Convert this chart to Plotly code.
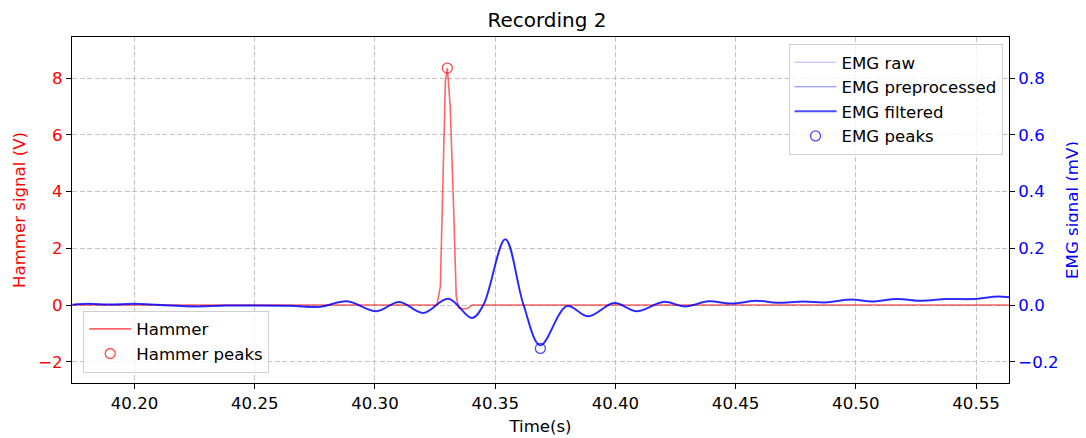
import plotly.graph_objects as go

# ---------------- data ----------------
hammer_t = [40.1742, 40.3000, 40.3258, 40.3272, 40.3283, 40.3293, 40.3301, 40.3313,
            40.3327, 40.3338, 40.3348, 40.3365, 40.3385, 40.3405, 40.5637]
hammer_v = [0.0, 0.0, 0.0, 0.66, 4.66, 7.9, 8.35, 7.0,
            3.47, 0.3, -0.1, -0.14, -0.12, 0.0, 0.0]

hammer_peak_t = [40.3301]
hammer_peak_v = [8.35]

emg_t = [40.1742, 40.1805, 40.1900, 40.2000, 40.2108, 40.2245, 40.2378, 40.2499,
         40.2648, 40.2773, 40.2884, 40.3006, 40.3101, 40.3201, 40.3305, 40.3404,
         40.3451, 40.3542, 40.3618, 40.3688, 40.3798, 40.3887, 40.3995, 40.4089,
         40.4200, 40.4290, 40.4387, 40.4484, 40.4588, 40.4671, 40.4781, 40.4872,
         40.4983, 40.5066, 40.5170, 40.5274, 40.5378, 40.5487, 40.5591, 40.5637]
emg_filtered = [0.001, 0.004, 0.002, 0.004, 0.000, -0.005, -0.002, -0.002,
                -0.003, -0.006, 0.013, -0.022, 0.011, -0.028, 0.022, -0.046,
                0.000, 0.232, 0.000, -0.142, -0.004, -0.040, 0.007, -0.022,
                0.011, -0.005, 0.013, 0.005, 0.015, 0.008, 0.012, 0.009,
                0.019, 0.012, 0.021, 0.015, 0.021, 0.021, 0.030, 0.027]
emg_raw = emg_filtered
emg_preprocessed = emg_filtered

emg_peak_t = [40.3688]
emg_peak_v = [-0.153]

x_ticks = [40.20, 40.25, 40.30, 40.35, 40.40, 40.45, 40.50, 40.55]
left_ticks = [-2, 0, 2, 4, 6, 8]
right_ticks = [-0.2, 0.0, 0.2, 0.4, 0.6, 0.8]

x_range = [40.1740, 40.5637]
left_range = [-2.749, 9.445]
right_range = [-0.2749, 0.9445]

# ---------------- figure ----------------
RED = "rgba(255,0,0,0.6)"
FONT = "DejaVu Sans"
FS = 16.6
grid = dict(showgrid=True, gridcolor="rgba(176,176,176,0.75)", griddash="5px,2.5px", gridwidth=1)

fig = go.Figure()

fig.add_trace(go.Scatter(x=hammer_t, y=hammer_v, mode="lines", name="Hammer",
                         line=dict(color=RED, width=1.6), yaxis="y", legend="legend2",
                         legendgroup="h1"))
fig.add_trace(go.Scatter(x=hammer_peak_t, y=hammer_peak_v, mode="markers", name="Hammer peaks",
                         marker=dict(symbol="circle-open", size=10, color="rgba(255,0,0,0.7)",
                                     line=dict(width=1.3)),
                         yaxis="y", legend="legend2", legendgroup="h2"))

fig.add_trace(go.Scatter(x=emg_t, y=emg_raw, mode="lines", name="EMG raw",
                         line=dict(color="rgba(0,0,255,0.2)", width=1.5, shape="spline", smoothing=1),
                         yaxis="y2", legend="legend", legendgroup="e1"))
fig.add_trace(go.Scatter(x=emg_t, y=emg_preprocessed, mode="lines", name="EMG preprocessed",
                         line=dict(color="rgba(0,0,255,0.5)", width=1, shape="spline", smoothing=1),
                         yaxis="y2", legend="legend", legendgroup="e2"))
fig.add_trace(go.Scatter(x=emg_t, y=emg_filtered, mode="lines", name="EMG filtered",
                         line=dict(color="rgba(0,0,255,0.7)", width=2, shape="spline", smoothing=1),
                         yaxis="y2", legend="legend", legendgroup="e3"))
fig.add_trace(go.Scatter(x=emg_peak_t, y=emg_peak_v, mode="markers", name="EMG peaks",
                         marker=dict(symbol="circle-open", size=10, color="rgba(0,0,255,0.7)",
                                     line=dict(width=1.3)),
                         yaxis="y2", legend="legend", legendgroup="e4"))

# page has an 8px body margin: figure is 1078x430 placed at (8,8)
fig.update_layout(
    width=1078, height=430,
    margin=dict(l=63.5, r=77, t=29.3, b=54.7, autoexpand=False),
    paper_bgcolor="white", plot_bgcolor="white",
    font=dict(family=FONT, size=FS, color="black"),
    title=dict(text="Recording 2", x=0.5, xanchor="center", y=0.972, yanchor="middle",
               font=dict(family=FONT, size=20, color="black")),
    xaxis=dict(range=x_range, tickvals=x_ticks, automargin=False,
               tickformat=".2f", ticks="outside", ticklen=5, tickcolor="black",
               showline=True, linecolor="black", linewidth=1, mirror=True,
               zeroline=False, tickfont=dict(family=FONT, size=FS, color="black"),
               title=dict(text="Time(s)", font=dict(family=FONT, size=FS, color="black"), standoff=8),
               **grid),
    yaxis=dict(range=left_range, tickvals=left_ticks, ticks="outside", ticklen=5, automargin=False,
               tickcolor="black", showline=True, linecolor="black", linewidth=1,
               zeroline=False, tickfont=dict(family=FONT, size=FS, color="red"),
               title=dict(text="Hammer signal (V)", font=dict(family=FONT, size=FS, color="red"),
                          standoff=8),
               **grid),
    yaxis2=dict(range=right_range, tickvals=right_ticks, tickformat=".1f", automargin=False,
                overlaying="y", side="right", ticks="outside", ticklen=5, tickcolor="black",
                showline=True, linecolor="black", linewidth=1, showgrid=False, zeroline=False,
                tickfont=dict(family=FONT, size=FS, color="blue"),
                title=dict(text="EMG signal (mV)", font=dict(family=FONT, size=FS, color="blue"),
                           standoff=8)),
    legend=dict(x=0.9931, y=0.98, xanchor="right", yanchor="top",
                bgcolor="rgba(255,255,255,0.8)", bordercolor="#d0d0d0", borderwidth=1,
                font=dict(family=FONT, size=FS, color="black"), tracegroupgap=0, itemwidth=42),
    legend2=dict(x=0.012, y=0.03, xanchor="left", yanchor="bottom",
                 bgcolor="rgba(255,255,255,0.8)", bordercolor="#d0d0d0", borderwidth=1,
                 font=dict(family=FONT, size=FS, color="black"), tracegroupgap=0, itemwidth=42),
)

fig.write_html("out.html")
